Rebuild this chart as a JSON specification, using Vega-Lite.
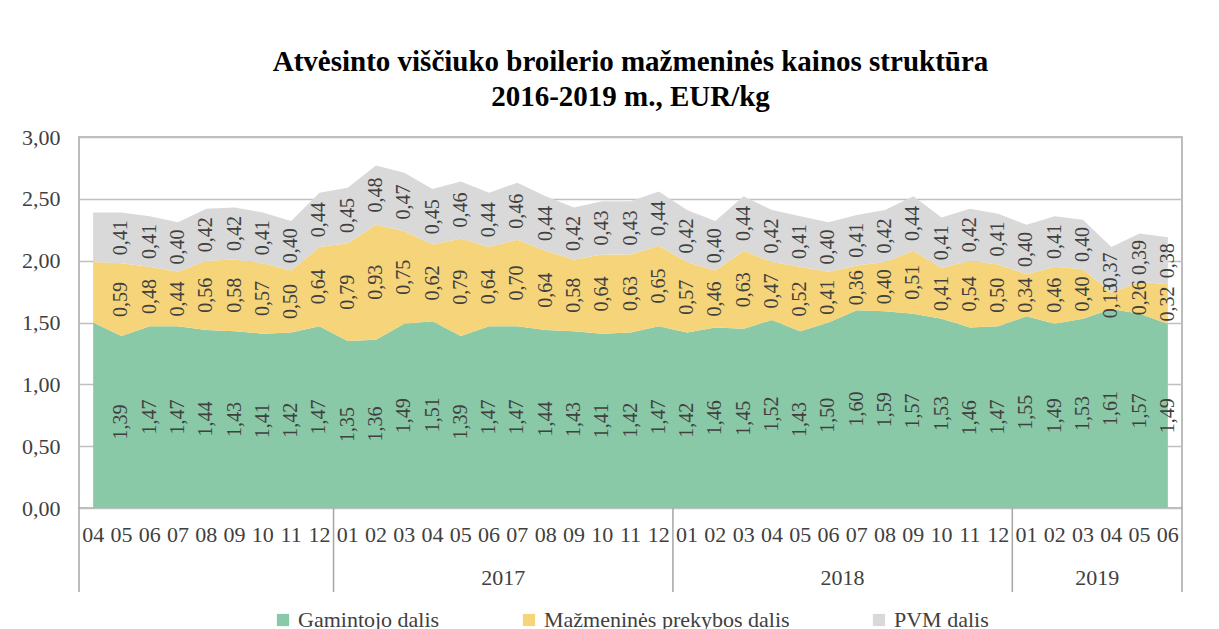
{
  "$schema": "https://vega.github.io/schema/vega-lite/v6.json",
  "autosize": "none",
  "width": 1103,
  "height": 371,
  "padding": {"left": 79, "top": 137, "right": 37, "bottom": 121},
  "background": "white",
  "title": {
    "text": ["Atvėsinto viščiuko broilerio mažmeninės kainos struktūra", "2016-2019 m., EUR/kg"],
    "font": "Liberation Serif",
    "fontSize": 29,
    "fontWeight": "bold",
    "color": "black",
    "lineHeight": 35,
    "offset": 14,
    "anchor": "middle",
    "frame": "group"
  },
  "config": {
    "font": "Liberation Serif",
    "view": {"stroke": "#a6a6a6", "strokeWidth": 1.5},
    "axis": {"labelFont": "Liberation Serif", "labelFontSize": 22, "labelColor": "#404040"},
    "legend": {
      "labelFont": "Liberation Serif", "labelFontSize": 22, "labelColor": "#404040",
      "layout": {"bottom": {"anchor": "middle"}}
    }
  },
  "datasets": {
    "main": [
      {"ym": "2016-04", "g": 1.50, "m": 0.49, "p": 0.40},
      {"ym": "2016-05", "g": 1.39, "m": 0.59, "p": 0.41},
      {"ym": "2016-06", "g": 1.47, "m": 0.48, "p": 0.41},
      {"ym": "2016-07", "g": 1.47, "m": 0.44, "p": 0.40},
      {"ym": "2016-08", "g": 1.44, "m": 0.56, "p": 0.42},
      {"ym": "2016-09", "g": 1.43, "m": 0.58, "p": 0.42},
      {"ym": "2016-10", "g": 1.41, "m": 0.57, "p": 0.41},
      {"ym": "2016-11", "g": 1.42, "m": 0.50, "p": 0.40},
      {"ym": "2016-12", "g": 1.47, "m": 0.64, "p": 0.44},
      {"ym": "2017-01", "g": 1.35, "m": 0.79, "p": 0.45},
      {"ym": "2017-02", "g": 1.36, "m": 0.93, "p": 0.48},
      {"ym": "2017-03", "g": 1.49, "m": 0.75, "p": 0.47},
      {"ym": "2017-04", "g": 1.51, "m": 0.62, "p": 0.45},
      {"ym": "2017-05", "g": 1.39, "m": 0.79, "p": 0.46},
      {"ym": "2017-06", "g": 1.47, "m": 0.64, "p": 0.44},
      {"ym": "2017-07", "g": 1.47, "m": 0.70, "p": 0.46},
      {"ym": "2017-08", "g": 1.44, "m": 0.64, "p": 0.44},
      {"ym": "2017-09", "g": 1.43, "m": 0.58, "p": 0.42},
      {"ym": "2017-10", "g": 1.41, "m": 0.64, "p": 0.43},
      {"ym": "2017-11", "g": 1.42, "m": 0.63, "p": 0.43},
      {"ym": "2017-12", "g": 1.47, "m": 0.65, "p": 0.44},
      {"ym": "2018-01", "g": 1.42, "m": 0.57, "p": 0.42},
      {"ym": "2018-02", "g": 1.46, "m": 0.46, "p": 0.40},
      {"ym": "2018-03", "g": 1.45, "m": 0.63, "p": 0.44},
      {"ym": "2018-04", "g": 1.52, "m": 0.47, "p": 0.42},
      {"ym": "2018-05", "g": 1.43, "m": 0.52, "p": 0.41},
      {"ym": "2018-06", "g": 1.50, "m": 0.41, "p": 0.40},
      {"ym": "2018-07", "g": 1.60, "m": 0.36, "p": 0.41},
      {"ym": "2018-08", "g": 1.59, "m": 0.40, "p": 0.42},
      {"ym": "2018-09", "g": 1.57, "m": 0.51, "p": 0.44},
      {"ym": "2018-10", "g": 1.53, "m": 0.41, "p": 0.41},
      {"ym": "2018-11", "g": 1.46, "m": 0.54, "p": 0.42},
      {"ym": "2018-12", "g": 1.47, "m": 0.50, "p": 0.41},
      {"ym": "2019-01", "g": 1.55, "m": 0.34, "p": 0.40},
      {"ym": "2019-02", "g": 1.49, "m": 0.46, "p": 0.41},
      {"ym": "2019-03", "g": 1.53, "m": 0.40, "p": 0.40},
      {"ym": "2019-04", "g": 1.61, "m": 0.13, "p": 0.37},
      {"ym": "2019-05", "g": 1.57, "m": 0.26, "p": 0.39},
      {"ym": "2019-06", "g": 1.49, "m": 0.32, "p": 0.38}
    ],
    "years": [
      {"ym": "2017-07", "year": "2017"},
      {"ym": "2018-07", "year": "2018"},
      {"ym": "2019-04", "year": "2019"}
    ],
    "seps": [
      {"ym": "2016-04"},
      {"ym": "2017-01"},
      {"ym": "2018-01"},
      {"ym": "2019-01"}
    ],
    "ends": [
      {"ym": "2019-06"}
    ]
  },
  "layer": [
    {
      "data": {"name": "main"},
      "transform": [
        {"fold": ["g", "m", "p"], "as": ["key", "value"]},
        {"calculate": "indexof(['g','m','p'], datum.key)", "as": "ord"},
        {"calculate": "datum.key == 'g' ? 'Gamintojo dalis' : datum.key == 'm' ? 'Mažmeninės prekybos dalis' : 'PVM dalis'", "as": "series"}
      ],
      "mark": {"type": "area", "opacity": 1, "interpolate": "linear"},
      "encoding": {
        "x": {
          "field": "ym", "type": "ordinal", "title": null, "bandPosition": 0.5,
          "scale": {"type": "band", "paddingInner": 0, "paddingOuter": 0},
          "axis": {
            "labelExpr": "slice(datum.value, 5)", "labelAngle": 0, "ticks": false, "domain": false,
            "grid": false, "labelPadding": 16, "labelOverlap": false, "labelFlush": false, "labelBound": false
          }
        },
        "y": {
          "field": "value", "type": "quantitative", "stack": "zero", "title": null,
          "scale": {"domain": [0, 3], "nice": false, "zero": true},
          "axis": {
            "values": [0, 0.5, 1, 1.5, 2, 2.5, 3],
            "labelExpr": "replace(format(datum.value, '.2f'), '.', ',')",
            "ticks": false, "domain": false, "labelPadding": 19,
            "gridColor": "#bfbfbf", "gridWidth": 1.5
          }
        },
        "color": {
          "field": "series", "type": "nominal",
          "scale": {
            "domain": ["Gamintojo dalis", "Mažmeninės prekybos dalis", "PVM dalis"],
            "range": ["#8ac9a7", "#f6d57a", "#d9d9d9"]
          },
          "legend": {
            "title": null, "orient": "bottom", "direction": "horizontal",
            "symbolType": "square", "symbolSize": 150, "symbolStrokeWidth": 0,
            "labelFont": "Liberation Serif", "labelFontSize": 22, "labelColor": "#404040",
            "labelOffset": 4, "columnPadding": 78, "offset": 64, "labelLimit": 400
          }
        },
        "order": {"field": "ord", "type": "quantitative"}
      }
    },
    {
      "data": {"name": "main"},
      "transform": [
        {"fold": ["g", "m", "p"], "as": ["key", "value"]},
        {"calculate": "indexof(['g','m','p'], datum.key)", "as": "ord"},
        {"filter": "datum.ym != '2016-04'"},
        {"stack": "value", "groupby": ["ym"], "sort": [{"field": "ord", "order": "ascending"}], "as": ["y0", "y1"]},
        {"calculate": "(datum.y0 + datum.y1) / 2", "as": "mid"},
        {"calculate": "replace(format(datum.value, '.2f'), '.', ',')", "as": "lbl"}
      ],
      "mark": {
        "type": "text", "angle": 270, "align": "center", "baseline": "middle",
        "font": "Liberation Serif", "fontSize": 20, "color": "#404040"
      },
      "encoding": {
        "x": {"field": "ym", "type": "ordinal", "title": null, "bandPosition": 0.5},
        "y": {"field": "mid", "type": "quantitative", "title": null},
        "text": {"field": "lbl", "type": "nominal"}
      }
    },
    {
      "data": {"name": "seps"},
      "mark": {"type": "rule", "y": {"expr": "height"}, "y2": {"expr": "height + 84"}, "color": "#a6a6a6", "strokeWidth": 1.5},
      "encoding": {
        "x": {"field": "ym", "type": "ordinal", "title": null, "bandPosition": 0}
      }
    },
    {
      "data": {"name": "ends"},
      "mark": {"type": "rule", "y": {"expr": "height"}, "y2": {"expr": "height + 84"}, "color": "#a6a6a6", "strokeWidth": 1.5},
      "encoding": {
        "x": {"field": "ym", "type": "ordinal", "title": null, "bandPosition": 1}
      }
    },
    {
      "data": {"name": "years"},
      "mark": {
        "type": "text", "y": {"expr": "height"}, "dy": 70, "align": "center", "baseline": "middle",
        "font": "Liberation Serif", "fontSize": 22, "color": "#404040"
      },
      "encoding": {
        "x": {"field": "ym", "type": "ordinal", "title": null, "bandPosition": 0},
        "text": {"field": "year", "type": "nominal"}
      }
    }
  ]
}
